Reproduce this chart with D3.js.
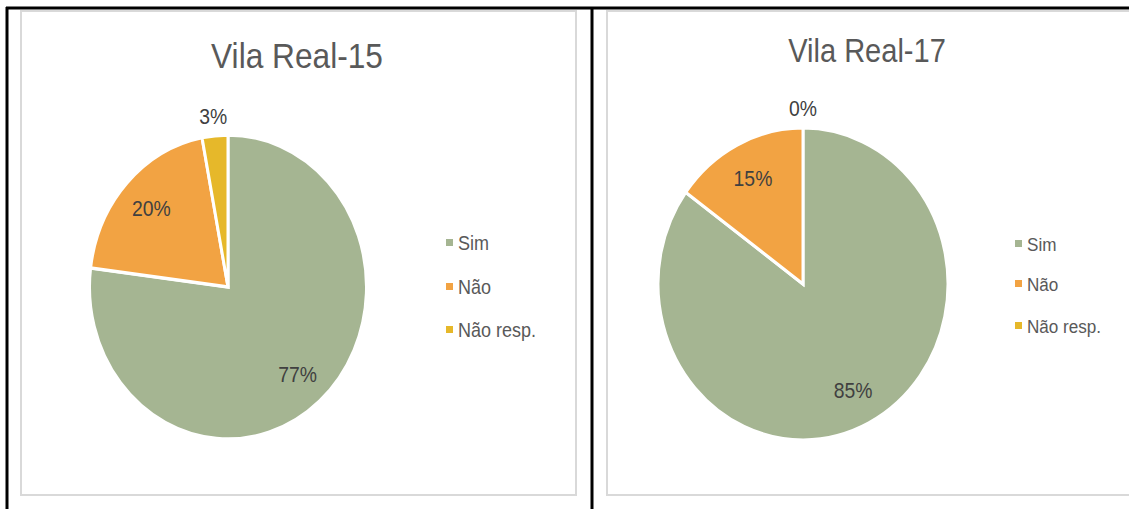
<!DOCTYPE html>
<html><head><meta charset="utf-8">
<script src="https://cdn.jsdelivr.net/npm/d3@7"></script>
<style>
html,body{margin:0;padding:0;background:#fff;}
svg{display:block;}
text{font-family:"Liberation Sans","Arial",sans-serif;}
</style></head>
<body>
<svg id="c" width="1129" height="509"></svg>
<script>
const categories = ["Sim", "Não", "Não resp."];
const colors = ["#a5b592", "#f2a343", "#e6b82a"];
const titles = ["Vila Real-15", "Vila Real-17"];
const valuesVR15 = [77, 20, 3];
const valuesVR17 = [85, 15, 0];

const svg = d3.select("#c");

function ntext(parent, x, y, str, size, fill, anchor, sx, dy) {
  return parent.append("text")
    .attr("transform", `translate(${x},${y}) scale(${sx},1)`)
    .attr("text-anchor", anchor).attr("dy", dy || 0)
    .attr("font-size", size).attr("fill", fill).text(str);
}

// outer black frame lines
svg.append("line").attr("x1",6).attr("x2",1129).attr("y1",8).attr("y2",8).attr("stroke","#000").attr("stroke-width",3);
svg.append("line").attr("x1",7).attr("x2",7).attr("y1",7).attr("y2",509).attr("stroke","#000").attr("stroke-width",3);
svg.append("line").attr("x1",592).attr("x2",592).attr("y1",7).attr("y2",509).attr("stroke","#000").attr("stroke-width",3);

const panels = [
  {title: titles[0], values: valuesVR15, box:[21,11,555,484], cx:228, cy:287, rx:138.5, ry:152, tx:297, ty:68, tsize:36,
   lx:446, ly:[243,287,330], lsize:20},
  {title: titles[1], values: valuesVR17, box:[607,11,540,484], cx:803, cy:284, rx:145, ry:156, tx:867, ty:62, tsize:33,
   lx:1015, ly:[244,284,326], lsize:19}
];

panels.forEach(p => {
  svg.append("rect").attr("x",p.box[0]).attr("y",p.box[1]).attr("width",p.box[2]).attr("height",p.box[3])
    .attr("fill","#fff").attr("stroke","#d9d9d9").attr("stroke-width",2);

  ntext(svg, p.tx, p.ty, p.title, p.tsize, "#595959", "middle", 0.88);

  const data = categories.map((c,i)=>({cat:c, value:p.values[i], color:colors[i]}));
  const pie = d3.pie().sort(null).value(d=>d.value);
  const arcs = pie(data);
  const arc = d3.arc().innerRadius(0).outerRadius(p.rx);
  const g = svg.append("g").attr("transform",`translate(${p.cx},${p.cy}) scale(1,${p.ry/p.rx})`);
  g.selectAll("path").data(arcs).join("path")
    .attr("d",arc).attr("fill",d=>d.data.color)
    .attr("stroke","#fff").attr("stroke-width",d=>d.value>0?3:0);

  const total = d3.sum(p.values);
  const sy = p.ry/p.rx;
  arcs.forEach(a => {
    const pct = a.data.value/total*100;
    const rr = pct < 5 ? p.rx*1.13 : p.rx*0.76;
    const mid = (a.startAngle + a.endAngle)/2;
    const x = p.cx + Math.sin(mid)*rr;
    const y = p.cy - Math.cos(mid)*rr*sy;
    ntext(svg, x, y, Math.round(pct)+"%", 22, "#404040", "middle", 0.88, "0.36em");
  });

  categories.forEach((c,i)=>{
    svg.append("rect").attr("x",p.lx).attr("y",p.ly[i]-4).attr("width",7).attr("height",7).attr("fill",colors[i]);
    ntext(svg, p.lx+12, p.ly[i], c, p.lsize, "#595959", "start", 0.9, "0.36em");
  });
});
</script>
</body></html>
